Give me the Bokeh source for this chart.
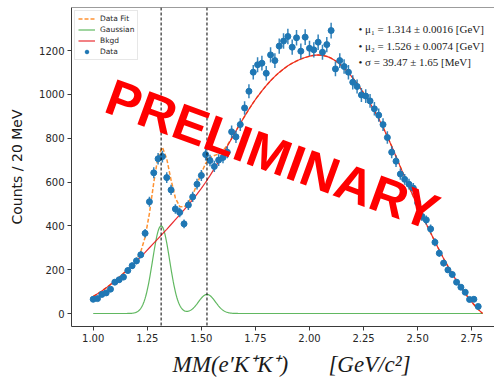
import numpy as np
from bokeh.plotting import figure
from bokeh.models import (Label, Span, FixedTicker, NumeralTickFormatter,
                          Legend, LegendItem, Range1d)
from bokeh.embed import file_html
from bokeh.resources import INLINE

# ---- data: missing-mass spectrum, 20 MeV bins starting at 1.00 GeV ----
bin_width = 0.02
mass = np.round(1.00 + bin_width * np.arange(90), 2)
counts = [65, 68, 87, 94, 111, 143, 154, 166, 196, 218,
          240, 268, 366, 510, 642, 706, 716, 620, 564, 477,
          461, 409, 495, 532, 590, 630, 725, 698, 671, 700,
          712, 736, 829, 806, 862, 938, 1014, 1101, 1135, 1142,
          1096, 1180, 1154, 1220, 1243, 1264, 1215, 1258, 1197, 1261,
          1210, 1203, 1238, 1192, 1227, 1291, 1116, 1154, 1127, 1101,
          1055, 1036, 997, 992, 970, 934, 905, 862, 803, 736,
          695, 636, 612, 590, 572, 505, 443, 427, 386, 325,
          275, 230, 199, 178, 143, 120, 97, 64, 65, 32]

# background model sampled on the bin grid 1.00 ... 2.80
bkgd_mass = np.round(1.00 + bin_width * np.arange(91), 2)
bkgd = [78, 90, 103, 117, 132, 148, 165, 183, 201, 220,
        239, 259, 279, 300, 321, 342, 363, 384, 406, 428,
        450, 473, 496, 520, 545, 571, 599, 629, 661, 694,
        728, 763, 798, 833, 867, 900, 932, 962, 990, 1016,
        1040, 1062, 1082, 1100, 1116, 1130, 1142, 1152, 1161, 1168,
        1174, 1178, 1180, 1178, 1173, 1165, 1153, 1138, 1120, 1099,
        1075, 1049, 1021, 991, 959, 925, 889, 850, 808, 763,
        716, 669, 623, 578, 534, 491, 449, 408, 368, 328,
        289, 251, 215, 181, 149, 119, 91, 65, 41, 19, 0]

# fitted signal parameters (GeV)
mu1, mu1_err = 1.314, 0.0016
mu2, mu2_err = 1.526, 0.0074
sigma_mev, sigma_err = 39.47, 1.65
sigma = sigma_mev / 1000.0
amp1, amp2 = 400, 87

x_ticks = [1.00, 1.25, 1.50, 1.75, 2.00, 2.25, 2.50, 2.75]
y_ticks = [0, 200, 400, 600, 800, 1000, 1200]


def gauss_pair(x):
    x = np.asarray(x, dtype=float)
    return (amp1 * np.exp(-0.5 * ((x - mu1) / sigma) ** 2)
            + amp2 * np.exp(-0.5 * ((x - mu2) / sigma) ** 2))


counts_arr = np.asarray(counts, dtype=float)
err = np.sqrt(counts_arr)                      # Poisson uncertainties
fine_mass = np.linspace(1.0, 2.8, 721)
signal = gauss_pair(fine_mass)
total_fit = np.asarray(bkgd, dtype=float) + gauss_pair(bkgd_mass)

# ---- figure ----
p = figure(width=494, height=381,
           x_range=Range1d(0.8997, 2.8553), y_range=Range1d(-59.3, 1396.2),
           output_backend="svg", toolbar_location=None,
           min_border_left=71, min_border_right=0,
           min_border_top=7, min_border_bottom=55)
p.outline_line_color = None
p.grid.visible = False
p.background_fill_color = "white"
p.border_fill_color = "white"

p.xaxis.ticker = FixedTicker(ticks=x_ticks)
p.xaxis.formatter = NumeralTickFormatter(format="0.00")
p.yaxis.ticker = FixedTicker(ticks=y_ticks)
for ax in (p.xaxis[0], p.yaxis[0]):
    ax.major_tick_out = 4
    ax.major_tick_in = 0
    ax.minor_tick_out = 0
    ax.minor_tick_in = 0
    ax.axis_line_color = "#3a3a3a"
    ax.major_tick_line_color = "#3a3a3a"
    ax.major_label_text_font = "DejaVu Sans"
    ax.major_label_text_font_size = "10px"
    ax.major_label_text_color = "#262626"
    ax.major_label_standoff = 3
    ax.axis_label_text_color = "#1a1a1a"

p.xaxis.axis_label = ("\u2002\u2005MM(e\u2032K\u207aK\u207a)"
                      "\u2003\u2002\u2005[GeV/c\u00b2]")
p.xaxis.axis_label_text_font = "Liberation Serif"
p.xaxis.axis_label_text_font_style = "italic"
p.xaxis.axis_label_text_font_size = "23px"
p.xaxis.axis_label_standoff = 7

p.yaxis.axis_label = "Counts / 20 MeV"
p.yaxis.axis_label_text_font = "DejaVu Sans"
p.yaxis.axis_label_text_font_style = "normal"
p.yaxis.axis_label_text_font_size = "14px"
p.yaxis.axis_label_standoff = 11

# top spine
p.add_layout(Span(location=1396.2, dimension="width",
                  line_color="#3a3a3a", line_width=1))

# fitted curves
r_fit = p.line(bkgd_mass, total_fit, line_color="#ff7f0e", line_width=1.5,
               line_dash="4 2", line_alpha=0.85)
r_gauss = p.line(fine_mass, signal, line_color="#2ca02c", line_width=1.2,
                 line_alpha=0.75)
r_bkgd = p.line(bkgd_mass, bkgd, line_color="#e8161b", line_width=1.2,
                line_alpha=0.9)

# data with error bars
p.segment(x0=mass, y0=counts_arr - err, x1=mass, y1=counts_arr + err,
          line_color="#1f77b4", line_width=1.5, line_alpha=0.9)
r_data = p.scatter(mass, counts_arr, size=6, marker="circle",
                   fill_color="#1f77b4", line_color="#1f77b4")

# peak positions
for mu in (mu1, mu2):
    p.add_layout(Span(location=mu, dimension="height", line_color="black",
                      line_width=1, line_dash="3 2"))

legend = Legend(items=[LegendItem(label="Data Fit", renderers=[r_fit]),
                       LegendItem(label="Gaussian", renderers=[r_gauss]),
                       LegendItem(label="Bkgd", renderers=[r_bkgd]),
                       LegendItem(label="Data", renderers=[r_data])],
                location="top_left")
legend.margin = 3
legend.padding = 3
legend.spacing = 2
legend.label_height = 9
legend.glyph_height = 9
legend.glyph_width = 17
legend.label_standoff = 5
legend.label_text_font = "DejaVu Sans"
legend.label_text_font_size = "7.5px"
legend.label_text_color = "#262626"
legend.border_line_color = "#d0d0d0"
legend.border_line_width = 1
legend.background_fill_alpha = 0.85
p.add_layout(legend)

# fit results
fit_lines = [
    f"\u2022 \u03bc\u2081 = {mu1:.3f} \u00b1 {mu1_err:.4f} [GeV]",
    f"\u2022 \u03bc\u2082 = {mu2:.3f} \u00b1 {mu2_err:.4f} [GeV]",
    f"\u2022 \u03c3 = {sigma_mev:.2f} \u00b1 {sigma_err:.2f} [MeV]",
]
for i, txt in enumerate(fit_lines):
    p.add_layout(Label(x=2.2266, y=1296 - 75.3 * i, text=txt,
                       text_font="Liberation Serif", text_font_size="11px",
                       text_color="#1a1a1a", text_align="left",
                       text_baseline="middle"))

# watermark
p.add_layout(Label(x=1.829, y=725, text="PRELIMINARY", angle=-20,
                   angle_units="deg", text_font="Liberation Sans",
                   text_font_style="bold", text_font_size="51px",
                   text_color="#ff0000", text_align="center",
                   text_baseline="middle"))

open("out.html", "w").write(file_html(p, INLINE))
